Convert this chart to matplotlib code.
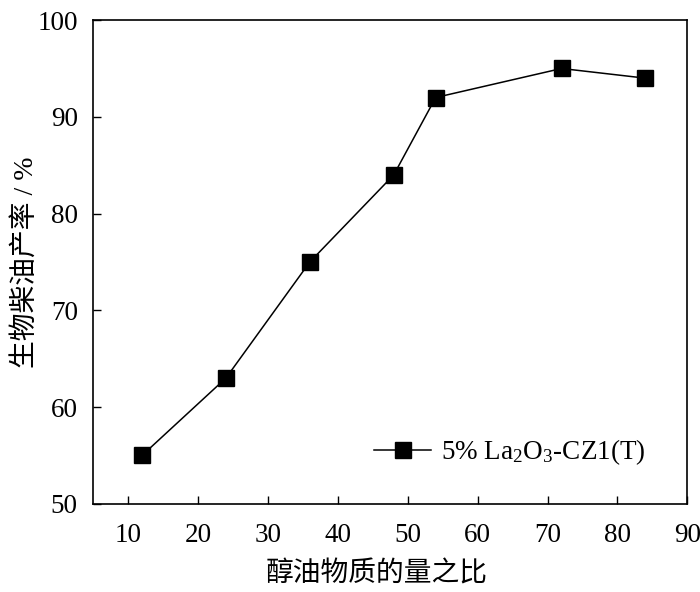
import matplotlib
matplotlib.use('Agg')
import matplotlib.pyplot as plt

# molar ratio of alcohol to oil vs biodiesel yield
ratio = [12, 24, 36, 48, 54, 72, 84]
yield_pct = [55, 63, 75, 84, 92, 95, 94]
series_label = '5% La$_2$O$_3$-CZ1(T)'
x_ticks = [10, 20, 30, 40, 50, 60, 70, 80, 90]
y_ticks = [50, 60, 70, 80, 90, 100]

plt.rcParams['font.family'] = ['Liberation Serif', 'Noto Sans CJK SC']
plt.rcParams['mathtext.fontset'] = 'custom'
plt.rcParams['mathtext.rm'] = 'Liberation Serif'
plt.rcParams['mathtext.it'] = 'Liberation Serif'

fs = 19.5
fig = plt.figure(figsize=(7, 5.92), dpi=100)
ax = fig.add_axes([0.133, 0.149, 0.849, 0.817])

ax.plot(ratio, yield_pct, color='black', lw=1.1, marker='s', markersize=12,
        markerfacecolor='black', markeredgecolor='black', label=series_label)

ax.set_xlim(5, 90)
ax.set_ylim(50, 100)
ax.set_xticks(x_ticks)
ax.set_yticks(y_ticks)
ax.tick_params(direction='in', length=6, width=1.0, labelsize=fs)
ax.tick_params(axis='x', pad=14)
ax.tick_params(axis='y', pad=11)
for s in ax.spines.values():
    s.set_linewidth(1.2)

ax.set_xlabel('醇油物质的量之比', fontsize=20, family=['Noto Sans CJK SC'])
ax.xaxis.label.set_va('center')
ax.xaxis.set_label_coords(0.477, -0.144)
ax.set_ylabel('生物柴油产率 / %', fontsize=20, family=['Liberation Serif', 'Noto Sans CJK SC'])
ax.yaxis.label.set_va('center')
ax.yaxis.set_label_coords(-0.113, 0.50)

ax.legend(loc='center left', frameon=False, fontsize=fs, handlelength=2.1,
          handletextpad=0.35, borderpad=0, borderaxespad=0,
          bbox_to_anchor=(0.473, 0.107))

fig.savefig('out.png', dpi=100)
